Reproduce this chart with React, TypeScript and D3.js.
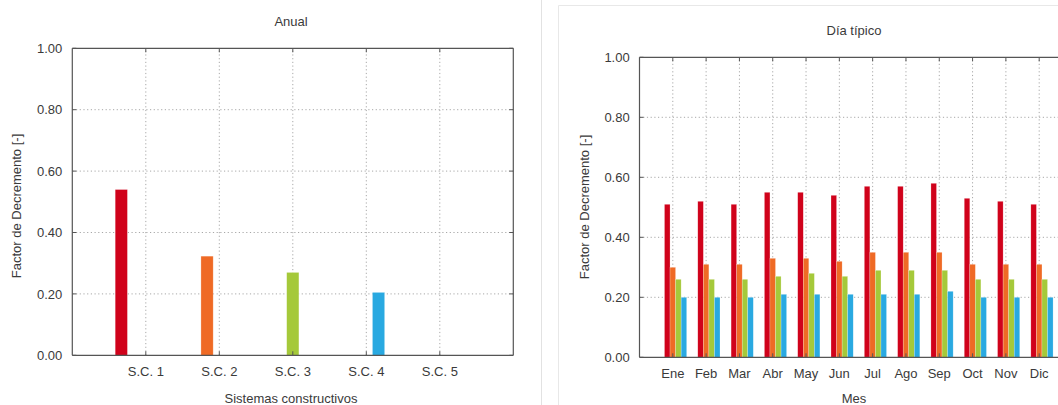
import React from "react";
import * as d3 from "d3";

const seriesNames = ["S.C. 1", "S.C. 2", "S.C. 3", "S.C. 4", "S.C. 5"];
const seriesColors = ["#d0021b", "#ef6a25", "#a5c93a", "#29a9e1", "#8e44ad"];
const annualValues: (number | null)[] = [0.54, 0.323, 0.27, 0.205, null];
const yTicks = [0, 0.2, 0.4, 0.6, 0.8, 1.0];

const months = ["Ene", "Feb", "Mar", "Abr", "May", "Jun", "Jul", "Ago", "Sep", "Oct", "Nov", "Dic"];
const sc1 = [0.51, 0.52, 0.51, 0.55, 0.55, 0.54, 0.57, 0.57, 0.58, 0.53, 0.52, 0.51];
const sc2 = [0.30, 0.31, 0.31, 0.33, 0.33, 0.32, 0.35, 0.35, 0.35, 0.31, 0.31, 0.31];
const sc3 = [0.26, 0.26, 0.26, 0.27, 0.28, 0.27, 0.29, 0.29, 0.29, 0.26, 0.26, 0.26];
const sc4 = [0.20, 0.20, 0.20, 0.21, 0.21, 0.21, 0.21, 0.21, 0.22, 0.20, 0.20, 0.20];
const monthlySeries = [sc1, sc2, sc3, sc4];

const FONT = "'Liberation Sans', Arial, sans-serif";
const TEXT = "#3a3a3a";
const AXIS = "#555";
const GRID = "#a8a8a8";
const fmt = d3.format(".2f");

function Frame({ x0, x1, y0, y1, xTickVals, x, y, rightTicks }: any) {
  return (
    <g>
      {/* grid */}
      {yTicks.filter((t) => t > 0 && t < 1).map((t) => (
        <line key={"gy" + t} x1={x0} x2={x1} y1={y(t)} y2={y(t)} stroke={GRID} strokeWidth={1} strokeDasharray="1.2,2.5" />
      ))}
      {xTickVals.map((v: number) => (
        <line key={"gx" + v} x1={x(v)} x2={x(v)} y1={y0} y2={y1} stroke={GRID} strokeWidth={1} strokeDasharray="1.2,2.5" />
      ))}
    </g>
  );
}

function Axes({ x0, x1, y0, y1, xTickVals, x, y, showRight }: any) {
  const tl = 4;
  return (
    <g>
      {yTicks.map((t) => (
        <g key={"yt" + t}>
          <line x1={x0} x2={x0 + tl} y1={y(t)} y2={y(t)} stroke={AXIS} />
          {showRight && <line x1={x1} x2={x1 - tl} y1={y(t)} y2={y(t)} stroke={AXIS} />}
        </g>
      ))}
      {xTickVals.map((v: number) => (
        <g key={"xt" + v}>
          <line x1={x(v)} x2={x(v)} y1={y0} y2={y0 - tl} stroke={AXIS} />
          <line x1={x(v)} x2={x(v)} y1={y1} y2={y1 + tl} stroke={AXIS} />
        </g>
      ))}
      <line x1={x0} x2={x1} y1={y0} y2={y0} stroke={AXIS} strokeWidth={1.2} />
      <line x1={x0} x2={x1} y1={y1} y2={y1} stroke={AXIS} strokeWidth={1.2} />
      <line x1={x0} x2={x0} y1={y0} y2={y1} stroke={AXIS} strokeWidth={1.2} />
      {showRight && <line x1={x1} x2={x1} y1={y0} y2={y1} stroke={AXIS} strokeWidth={1.2} />}
    </g>
  );
}

export default function App() {
  // Left chart: Anual
  const L = { x0: 72.3, x1: 513.3, y0: 355.3, y1: 48.3 };
  const xL = d3.scaleLinear().domain([0, 6]).range([L.x0, L.x1]);
  const yL = d3.scaleLinear().domain([0, 1]).range([L.y0, L.y1]);
  const catPos = seriesNames.map((_, i) => i + 1);
  const slot = 1 / 6;
  const bwL = xL(slot) - xL(0);

  // Right chart: Día típico
  const R = { x0: 639.5, x1: 1072.5, y0: 357.3, y1: 57.3 };
  const xR = d3.scaleLinear().domain([0, 13]).range([R.x0, R.x1]);
  const yR = d3.scaleLinear().domain([0, 1]).range([R.y0, R.y1]);
  const monthPos = months.map((_, i) => i + 1);
  const bwR = xR(slot) - xR(0);

  return (
    <svg width={1058} height={405} style={{ position: "absolute", left: 0, top: 0, background: "#fff" }} fontFamily={FONT}>
      <rect x={0} y={0} width={1058} height={405} fill="#fff" />
      {/* separators */}
      <line x1={541.5} x2={541.5} y1={0} y2={405} stroke="#e2e2e2" />
      <path d="M558.5,405 L558.5,5.5 L1058,5.5" fill="none" stroke="#e8e8e8" />

      {/* LEFT */}
      <Frame x0={L.x0} x1={L.x1} y0={L.y0} y1={L.y1} xTickVals={catPos} x={xL} y={yL} />
      {annualValues.map((v, i) =>
        v == null ? null : (
          <rect key={"a" + i} x={xL(catPos[i] + (i - 2) * slot) - bwL / 2} width={bwL} y={yL(v)} height={yL(0) - yL(v)}
            fill={seriesColors[i]} stroke="#fff" strokeOpacity={0.45} strokeWidth={0.6} />
        )
      )}
      <Axes x0={L.x0} x1={L.x1} y0={L.y0} y1={L.y1} xTickVals={catPos} x={xL} y={yL} showRight={true} />
      {yTicks.map((t) => (
        <text key={"ly" + t} x={62.3} y={yL(t)} dy="0.36em" textAnchor="end" fontSize={13} fill={TEXT}>{fmt(t)}</text>
      ))}
      {seriesNames.map((s, i) => (
        <text key={"lx" + i} x={xL(catPos[i])} y={376} textAnchor="middle" fontSize={13} fill={TEXT}>{s}</text>
      ))}
      <text x={291} y={26} textAnchor="middle" fontSize={13} fill={TEXT}>Anual</text>
      <text x={291} y={403} textAnchor="middle" fontSize={13} fill={TEXT}>Sistemas constructivos</text>
      <text transform={`translate(21,${206}) rotate(-90)`} textAnchor="middle" fontSize={13} fill={TEXT}>Factor de Decremento [-]</text>

      {/* RIGHT */}
      <Frame x0={R.x0} x1={R.x1} y0={R.y0} y1={R.y1} xTickVals={monthPos} x={xR} y={yR} />
      {monthlySeries.map((ser, si) =>
        ser.map((v, mi) => (
          <rect key={"m" + si + "-" + mi} x={xR(monthPos[mi] + (si - 1) * slot) - bwR / 2} width={bwR} y={yR(v)} height={yR(0) - yR(v)}
            fill={seriesColors[si]} stroke="#fff" strokeOpacity={0.45} strokeWidth={0.5} />
        ))
      )}
      <Axes x0={R.x0} x1={R.x1} y0={R.y0} y1={R.y1} xTickVals={monthPos} x={xR} y={yR} showRight={false} />
      {yTicks.map((t) => (
        <text key={"ry" + t} x={629.7} y={yR(t)} dy="0.36em" textAnchor="end" fontSize={13} fill={TEXT}>{fmt(t)}</text>
      ))}
      {months.map((m, i) => (
        <text key={"rx" + i} x={xR(monthPos[i])} y={378} textAnchor="middle" fontSize={13} fill={TEXT}>{m}</text>
      ))}
      <text x={854} y={35} textAnchor="middle" fontSize={13} fill={TEXT}>Día típico</text>
      <text x={854} y={403} textAnchor="middle" fontSize={13} fill={TEXT}>Mes</text>
      <text transform={`translate(589,${207}) rotate(-90)`} textAnchor="middle" fontSize={13} fill={TEXT}>Factor de Decremento [-]</text>
    </svg>
  );
}
